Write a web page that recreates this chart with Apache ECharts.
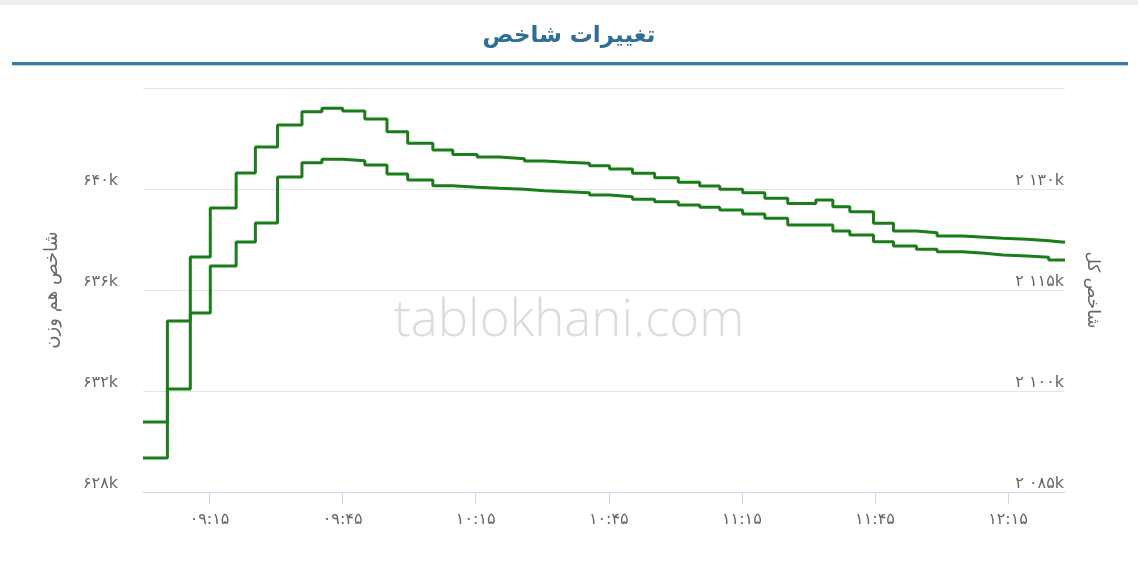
<!DOCTYPE html>
<html>
<head>
<meta charset="utf-8">
<script src="https://cdn.jsdelivr.net/npm/echarts@6/dist/echarts.min.js"></script>
<style>
html,body{margin:0;padding:0;background:#fff;}
#c{width:1138px;height:564px;}
</style>
</head>
<body>
<div id="c"></div>
<script>
// ---- data ----
const times = [
  "09:00:00","09:05:30","09:10:40","09:15:10","09:21:00","09:25:20","09:30:20","09:35:50",
  "09:40:20","09:45:00","09:50:00","09:55:00","09:59:40","10:05:20","10:09:50","10:15:20",
  "10:20:20","10:26:00","10:30:30","10:35:30","10:40:40","10:45:10","10:50:20","10:55:20",
  "11:00:40","11:05:30","11:10:00","11:15:10","11:20:10","11:25:20","11:31:40","11:35:30",
  "11:39:20","11:44:40","11:49:10","11:54:20","11:59:00","12:04:40","12:09:50","12:13:50",
  "12:19:20","12:24:10","12:27:50"
];
// شاخص هم وزن (left axis)
const equalWeight = [
  630770,634770,637310,639250,640630,641660,642530,643060,
  643200,643090,642770,642270,641810,641540,641370,641270,
  641200,641110,641060,641020,640920,640790,640620,640450,
  640270,640120,639990,639850,639630,639430,639560,639300,
  639100,638640,638340,638270,638140,638090,638050,638010,
  637950,637890,637890
];
// شاخص کل (right axis)
const totalIndex = [
  2090050,2100300,2111580,2118560,2122130,2124950,2131780,2133910,
  2134410,2134200,2133560,2132230,2131340,2130490,2130250,2130100,
  2129950,2129750,2129600,2129450,2129110,2128860,2128470,2128110,
  2127620,2127280,2126880,2126290,2125650,2124650,2124650,2123760,
  2123170,2122170,2121530,2121040,2120690,2120450,2120200,2120050,
  2119860,2119460,2119460
];
const xTickTimes = ["09:15","09:45","10:15","10:45","11:15","11:45","12:15"];
const leftTicks = [628000,632000,636000,640000,644000];
const rightTicks = [2085000,2100000,2115000,2130000,2145000];
const titleText = "تغییرات شاخص";
const leftName = "شاخص هم وزن";
const rightName = "شاخص کل";
const watermark = "tablokhani.com";

// ---- helpers ----
const FA = "۰۱۲۳۴۵۶۷۸۹";
const toFa = s => String(s).replace(/\d/g, d => FA[d]);
const toMin = t => { const p = t.split(":").map(Number); return (p[0]-9)*60 + p[1] + (p[2]||0)/60; };
const fmtTime = m => { const h = 9 + Math.floor(m/60), mm = Math.round(m%60);
  return toFa(String(h).padStart(2,"0") + ":" + String(mm).padStart(2,"0")); };
const fmtK = v => { const k = Math.round(v/1000); const s = String(k);
  return toFa(s.length > 3 ? s.slice(0, s.length-3) + " " + s.slice(-3) : s) + "k"; };

const xs = times.map(toMin);
const tickMins = xTickTimes.map(toMin);
const ewData = xs.map((x,i)=>[x, equalWeight[i]]);
const tiData = xs.map((x,i)=>[x, totalIndex[i]]);

const FONT = "DejaVu Sans";
const LINE = '#1a7d1a';
const chart = echarts.init(document.getElementById('c'), null, {renderer:'canvas'});
chart.setOption({
  animation:false,
  backgroundColor:'#fff',
  textStyle:{fontFamily:FONT},
  graphic:[
    {type:'rect', left:0, top:0, shape:{width:1138,height:5}, style:{fill:'#eeeeee'}, z:0},
    {type:'text', left:'center', top:25, style:{text:titleText, fill:'#2f6f95', font:'bold 23px "DejaVu Sans"'}},
    {type:'rect', left:12, top:62, shape:{width:1116,height:3}, style:{fill:'#3b7aa0'}},
    {type:'rect', left:12, top:65, shape:{width:1116,height:1}, style:{fill:'#b7d6ea'}},
    {type:'text', left:'center', top:296, z:-1, style:{text:watermark, fill:'#dcdcdc', font:'300 51px "Open Sans"'}}
  ],
  grid:{left:143, right:73, top:88, bottom:72},
  xAxis:{
    type:'value', min:0, max:xs[xs.length-1],
    splitLine:{show:false},
    axisLine:{lineStyle:{color:'#ccd6eb', width:1}},
    axisTick:{show:true, length:12, lineStyle:{color:'#ccd6eb'}, customValues:tickMins},
    axisLabel:{customValues:tickMins, formatter:fmtTime, color:'#666', fontSize:16, margin:20, fontFamily:FONT}
  },
  yAxis:[
    {
      type:'value', position:'left', min:leftTicks[0], max:leftTicks[leftTicks.length-1],
      interval:leftTicks[1]-leftTicks[0],
      name:leftName, nameLocation:'middle', nameGap:82, nameRotate:90,
      nameTextStyle:{color:'#666', fontSize:18, fontFamily:FONT},
      axisLine:{show:false}, axisTick:{show:false},
      splitLine:{lineStyle:{color:'#e6e6e6', width:1}},
      axisLabel:{formatter:fmtK, color:'#666', fontSize:16, margin:25, verticalAlign:'bottom',
        showMaxLabel:false, fontFamily:FONT, padding:[0,0,0,0]}
    },
    {
      type:'value', position:'right', min:rightTicks[0], max:rightTicks[rightTicks.length-1],
      interval:rightTicks[1]-rightTicks[0],
      name:rightName, nameLocation:'middle', nameGap:19, nameRotate:-90,
      nameTextStyle:{color:'#666', fontSize:17, fontFamily:FONT},
      axisLine:{show:false}, axisTick:{show:false},
      splitLine:{show:false},
      axisLabel:{formatter:fmtK, color:'#666', fontSize:16, inside:true, margin:1, verticalAlign:'bottom',
        showMaxLabel:false, fontFamily:FONT, padding:[0,0,0,0]}
    }
  ],
  series:[
    {name:leftName, type:'line', yAxisIndex:0, step:'end', data:ewData, showSymbol:false,
     lineStyle:{color:LINE, width:3}, itemStyle:{color:LINE}},
    {name:rightName, type:'line', yAxisIndex:1, step:'end', data:tiData, showSymbol:false,
     lineStyle:{color:LINE, width:3}, itemStyle:{color:LINE}}
  ]
});
</script>
</body>
</html>
